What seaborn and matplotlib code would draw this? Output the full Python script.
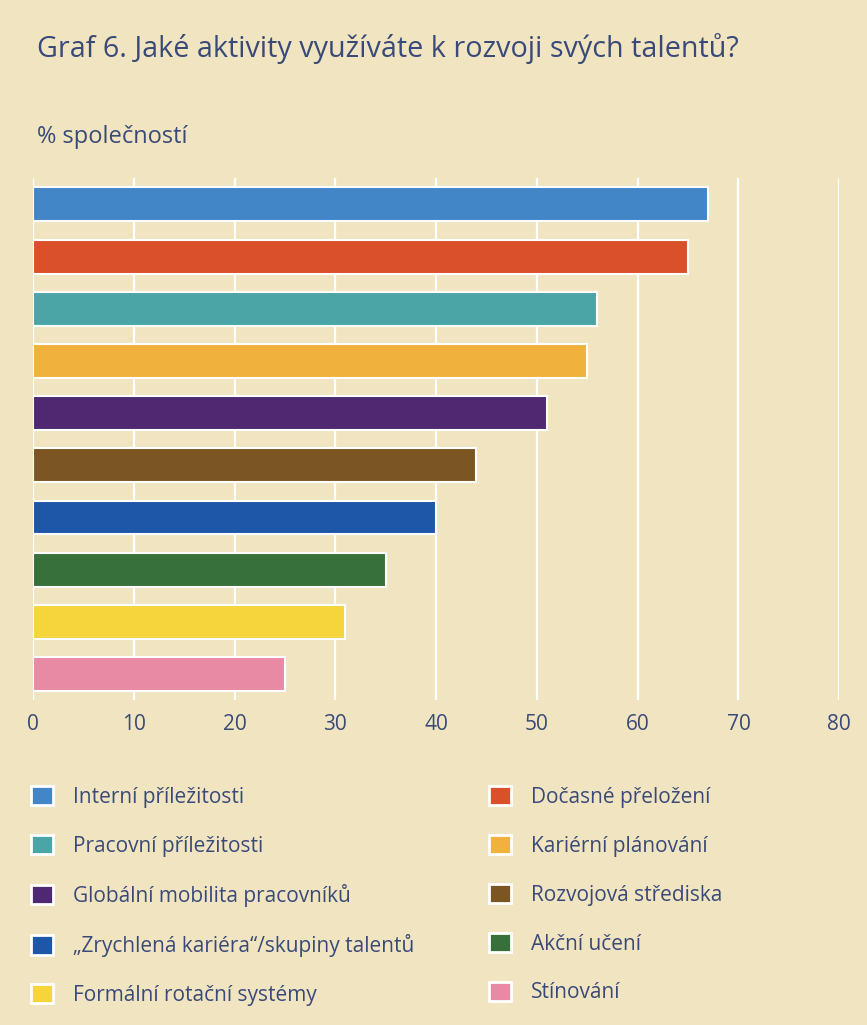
import pandas as pd
import matplotlib.pyplot as plt
import seaborn as sns
from matplotlib.patches import Patch

# data
activities = ["Interní příležitosti", "Dočasné přeložení", "Pracovní příležitosti",
              "Kariérní plánování", "Globální mobilita pracovníků", "Rozvojová střediska",
              "„Zrychlená kariéra“/skupiny talentů", "Akční učení",
              "Formální rotační systémy", "Stínování"]
values = [67, 65, 56, 55, 51, 44, 40, 35, 31, 25]
colors = ["#4286C8", "#D9502A", "#4BA5A7", "#F0B23C", "#4E2870",
          "#7B5622", "#1E56A8", "#37703B", "#F5D43C", "#E88AA4"]
xticks = [0, 10, 20, 30, 40, 50, 60, 70, 80]

bg = "#F1E5C1"
txt = "#3A4A78"

df = pd.DataFrame({"activity": activities, "value": values})

sns.set_theme(style="white")
plt.rcParams["font.family"] = ["Open Sans", "DejaVu Sans"]

fig = plt.figure(figsize=(8.67, 10.25), dpi=100, facecolor=bg)
ax = fig.add_axes([0.038, 0.317, 0.930, 0.509])
ax.set_facecolor(bg)

sns.barplot(data=df, x="value", y="activity", hue="activity", palette=colors,
            saturation=1, legend=False, width=0.65, edgecolor="white",
            linewidth=1.5, ax=ax, zorder=3)

ax.set_xlim(0, 80)
ax.set_xticks(xticks)
ax.set_xticklabels([str(t) for t in xticks], fontsize=15, color=txt)
ax.tick_params(axis="x", length=0, pad=10)
ax.set_yticks([])
ax.set_xlabel("")
ax.set_ylabel("")
ax.grid(axis="x", color="white", linewidth=1.6, zorder=0)
ax.set_axisbelow(True)
for s in ax.spines.values():
    s.set_visible(False)

fig.text(0.043, 0.953, "Graf 6. Jaké aktivity využíváte k rozvoji svých talentů?",
         fontsize=20.7, color=txt, va="center", ha="left")
fig.text(0.043, 0.866, "% společností", fontsize=17, color=txt, va="center", ha="left")

# two-column legend, filled row by row
handles = [Patch(facecolor=c, edgecolor="white", linewidth=2) for c in colors]
for col, x0 in enumerate([0.036, 0.564]):
    idx = list(range(col, len(activities), 2))
    leg = fig.legend([handles[i] for i in idx], [activities[i] for i in idx],
                     loc="upper left", bbox_to_anchor=(x0, 0.233), frameon=False,
                     fontsize=15, handlelength=1.05, handleheight=1.05,
                     handletextpad=0.95, labelspacing=1.3, borderpad=0,
                     borderaxespad=0)
    for t in leg.get_texts():
        t.set_color(txt)

fig.savefig("out.png", dpi=100, facecolor=bg)
